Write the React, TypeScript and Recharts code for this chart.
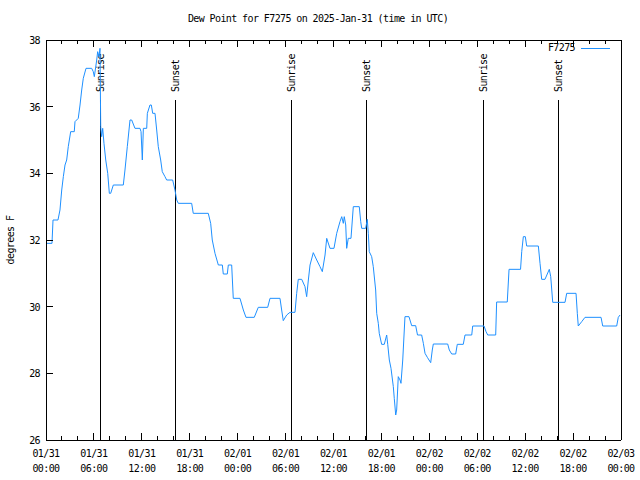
import React from 'react';
import { LineChart, Line, XAxis, YAxis, ReferenceLine } from 'recharts';

// hours since 01/31 00:00 UTC
const hours = [
  0, 0.75, 0.88, 1.5, 1.75, 1.97, 2.17, 2.38, 2.59, 2.79, 3.09, 3.54, 3.63, 4.04, 4.26, 4.47, 4.67, 5.01, 5.72,
  5.92, 6.05, 6.35, 6.47, 6.64, 6.76, 6.85, 6.97, 7.1, 7.26, 7.48, 7.73, 7.93, 8.1, 8.43, 9.68, 9.89, 10.18,
  10.52, 10.73, 11.14, 11.77, 11.9, 12.06, 12.19, 12.61, 12.69, 13.02, 13.19, 13.36, 13.65, 13.86, 14.06,
  14.36, 14.56, 14.9, 15.11, 15.86, 16.15, 16.37, 16.57, 18.24, 18.44, 20.32, 20.62, 20.82, 21.16, 21.58,
  22.08, 22.2, 22.7, 22.83, 23.25, 23.45, 24.29, 24.71, 25.04, 26.08, 26.58, 27.76, 28.05, 29.3, 29.51, 29.71,
  30.14, 30.55, 31.18, 31.39, 31.59, 32.02, 32.43, 32.64, 32.85, 33.06, 33.47, 33.9, 34.31, 34.6, 34.94,
  35.15, 35.56, 36.06, 36.4, 36.81, 37.03, 37.23, 37.35, 37.53, 37.65, 37.85, 38.19, 38.48, 39.23, 39.41,
  39.53, 40.03, 40.23, 40.36, 40.48, 40.78, 40.98, 41.28, 41.41, 41.61, 41.73, 42.03, 42.36, 42.66, 42.79,
  42.99, 43.2, 43.49, 43.61, 43.79, 43.91, 44.11, 44.33, 44.45, 44.67, 44.95, 45.45, 45.79, 46.29, 46.52,
  47.04, 47.25, 47.46, 47.75, 48.17, 48.37, 48.5, 50.3, 50.5, 50.8, 51.3, 51.5, 52.25, 52.47, 53.31, 53.43,
  54.85, 55.1, 55.31, 56.31, 56.43, 57.76, 57.98, 59.42, 59.57, 59.77, 60.02, 60.19, 61.65, 61.86, 62.07,
  62.48, 63.02, 63.2, 63.45, 64.99, 65.2, 66.37, 66.53, 66.65, 67.08, 67.49, 69.5, 69.71, 71.46, 71.66, 71.88,
];

const dewPoint = [
  31.9, 31.9, 32.6, 32.6, 32.9, 33.5, 33.9, 34.25, 34.4, 34.8, 35.25, 35.25, 35.55, 35.65, 36.05, 36.5, 36.85,
  37.15, 37.15, 37.05, 36.9, 37.4, 37.65, 37.5, 37.75, 35.4, 35.1, 35.35, 34.9, 34.4, 34.0, 33.4, 33.4, 33.65,
  33.65, 34.1, 34.8, 35.6, 35.6, 35.35, 35.35, 35.25, 34.4, 35.35, 35.35, 35.8, 36.05, 36.05, 35.8, 35.8, 35.3,
  34.8, 34.4, 34.05, 33.9, 33.8, 33.8, 33.5, 33.2, 33.1, 33.1, 32.8, 32.8, 32.5, 32.0, 31.6, 31.25, 31.25,
  30.98, 30.98, 31.25, 31.25, 30.25, 30.25, 29.9, 29.68, 29.68, 29.98, 29.98, 30.25, 30.25, 29.9, 29.58,
  29.75, 29.83, 29.83, 30.4, 30.82, 30.82, 30.6, 30.3, 30.8, 31.25, 31.62, 31.4, 31.2, 31.05, 31.55, 32.05,
  31.75, 31.75, 32.2, 32.55, 32.7, 32.5, 32.7, 32.45, 31.75, 32.05, 32.05, 33.0, 33.0, 32.55, 32.35, 32.35,
  32.62, 32.2, 31.65, 31.5, 31.2, 30.5, 29.8, 29.5, 29.2, 28.87, 28.87, 29.15, 28.87, 28.4, 28.15, 27.6,
  27.25, 26.75, 26.9, 27.9, 27.8, 27.7, 28.4, 29.7, 29.7, 29.43, 29.43, 29.15, 29.15, 28.9, 28.6, 28.48,
  28.32, 28.7, 28.88, 28.88, 28.7, 28.58, 28.58, 28.87, 28.87, 29.15, 29.15, 29.42, 29.42, 29.25, 29.15,
  29.15, 30.14, 30.14, 31.12, 31.12, 31.65, 32.1, 32.1, 31.82, 31.82, 31.3, 30.82, 30.82, 31.12, 30.9, 30.13,
  30.13, 30.4, 30.4, 29.8, 29.42, 29.55, 29.68, 29.68, 29.42, 29.42, 29.68, 29.75,
];

const sunEvents = ['Sunrise', 'Sunset', 'Sunrise', 'Sunset', 'Sunrise', 'Sunset'];
const sunHours = [6.82, 16.21, 30.74, 40.13, 54.78, 64.17];

const xTicks = Array.from({ length: 37 }, (_, i) => i * 2);
const yTicks = [26, 28, 30, 32, 34, 36, 38];

const data = hours.map((h, i) => ({ h, dew: dewPoint[i] }));

const FONT = '"DejaVu Sans Mono", monospace';
const BLUE = '#1e90ff';
const textStyle = { fontFamily: FONT, fontSize: 10, letterSpacing: -0.6 };

const fmtDay = (h: number) => {
  const d = Math.floor(h / 24);
  return ['01/31', '02/01', '02/02', '02/03'][d];
};
const fmtTime = (h: number) => String(h % 24).padStart(2, '0') + ':00';

const BottomTick = (props: any) => {
  const { x, y, payload } = props;
  const v = payload.value;
  const major = v % 6 === 0;
  return (
    <g>
      {v > 0 && v < 72 && (
        <line x1={x} y1={y} x2={x} y2={y - (major ? 7 : 4)} stroke="#000" shapeRendering="crispEdges" />
      )}
      {major && (
        <text x={x} y={y + 17} textAnchor="middle" fill="#000" style={textStyle}>
          {fmtDay(v)}
        </text>
      )}
      {major && (
        <text x={x} y={y + 32} textAnchor="middle" fill="#000" style={textStyle}>
          {fmtTime(v)}
        </text>
      )}
    </g>
  );
};

const TopTick = (props: any) => {
  const { x, y, payload } = props;
  const v = payload.value;
  if (v === 0 || v === 72) return <g />;
  return <line x1={x} y1={y} x2={x} y2={y + (v % 6 === 0 ? 7 : 4)} stroke="#000" shapeRendering="crispEdges" />;
};

const LeftTick = (props: any) => {
  const { x, y, payload } = props;
  return (
    <g>
      <line x1={x} y1={y} x2={x + 7} y2={y} stroke="#000" shapeRendering="crispEdges" />
      <text x={x - 6} y={y + 4} textAnchor="end" fill="#000" style={textStyle}>
        {payload.value}
      </text>
    </g>
  );
};

const RightTick = (props: any) => {
  const { x, y } = props;
  return <line x1={x} y1={y} x2={x - 7} y2={y} stroke="#000" shapeRendering="crispEdges" />;
};

const SunLabel = (props: any) => {
  const { viewBox, text } = props;
  const x = viewBox.x + 4;
  const y = 92;
  return (
    <text x={x} y={y} transform={`rotate(-90 ${x} ${y})`} textAnchor="start" fill="#000" style={textStyle}>
      {text}
    </text>
  );
};

const axisStroke = { stroke: '#000', shapeRendering: 'crispEdges' };

const App = () => {
  return (
    <div style={{ position: 'absolute', left: 0, top: 0, width: 640, height: 480, background: '#fff' }}>
      <LineChart width={640} height={480} data={data} margin={{ top: 39, right: 18, bottom: 39, left: 45 }}>
        <XAxis
          xAxisId="bottom"
          dataKey="h"
          type="number"
          domain={[0, 72]}
          ticks={xTicks}
          interval={0}
          height={1}
          tickSize={0}
          tickMargin={0}
          tickLine={false}
          axisLine={axisStroke}
          tick={<BottomTick />}
        />
        <XAxis
          xAxisId="top"
          orientation="top"
          dataKey="h"
          type="number"
          domain={[0, 72]}
          ticks={xTicks}
          interval={0}
          height={1}
          tickSize={0}
          tickMargin={0}
          tickLine={false}
          axisLine={axisStroke}
          tick={<TopTick />}
        />
        <YAxis
          yAxisId="left"
          type="number"
          domain={[26, 38]}
          ticks={yTicks}
          interval={0}
          width={1}
          tickSize={0}
          tickMargin={0}
          tickLine={false}
          axisLine={axisStroke}
          tick={<LeftTick />}
        />
        <YAxis
          yAxisId="right"
          orientation="right"
          type="number"
          domain={[26, 38]}
          ticks={yTicks}
          interval={0}
          width={1}
          tickSize={0}
          tickMargin={0}
          tickLine={false}
          axisLine={axisStroke}
          tick={<RightTick />}
        />
        {sunHours.map((h, i) => (
          <ReferenceLine
            key={i}
            xAxisId="bottom"
            yAxisId="left"
            segment={[
              { x: h, y: 26 },
              { x: h, y: 36.2 },
            ]}
            stroke="#000"
            strokeWidth={1}
            shapeRendering="crispEdges"
            label={<SunLabel text={sunEvents[i]} />}
          />
        ))}
        <Line
          xAxisId="bottom"
          yAxisId="left"
          type="linear"
          dataKey="dew"
          stroke={BLUE}
          strokeWidth={1}
          dot={false}
          isAnimationActive={false}
        />
      </LineChart>
      <div style={{ ...textStyle, position: 'absolute', top: 13, left: -2, width: 640, textAlign: 'center', lineHeight: '12px' }}>
        Dew Point for F7275 on 2025-Jan-31 (time in UTC)
      </div>
      <div
        style={{
          ...textStyle,
          position: 'absolute',
          top: 234,
          left: -39,
          width: 100,
          textAlign: 'center',
          lineHeight: '12px',
          transform: 'rotate(-90deg)',
        }}
      >
        degrees F
      </div>
      <div style={{ ...textStyle, position: 'absolute', top: 42, right: 65, lineHeight: '12px' }}>F7275</div>
      <div style={{ position: 'absolute', top: 48, left: 581, width: 29, height: 1, background: BLUE }} />
    </div>
  );
};

export default App;
